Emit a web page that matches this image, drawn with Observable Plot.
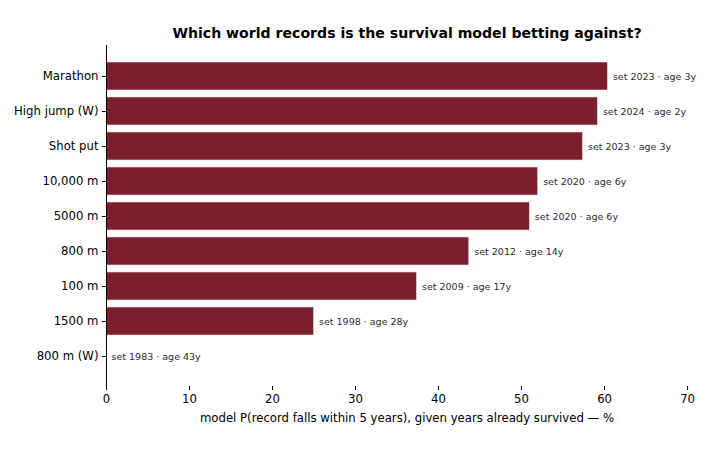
<!DOCTYPE html>
<html>
<head>
<meta charset="utf-8">
<script src="https://cdn.jsdelivr.net/npm/d3@7"></script>
<script src="https://cdn.jsdelivr.net/npm/@observablehq/plot@0.6"></script>
<style>
  body { margin: 0; background: #fff; }
  svg { font-family: "DejaVu Sans", sans-serif; }
</style>
</head>
<body>
<div id="chart"></div>
<script>
const events = ["Marathon", "High jump (W)", "Shot put", "10,000 m", "5000 m", "800 m", "100 m", "1500 m", "800 m (W)"];
const probs = [60.4, 59.2, 57.4, 52.0, 51.0, 43.7, 37.4, 25.0, 0.0];
const setYears = [2023, 2024, 2023, 2020, 2020, 2012, 2009, 1998, 1983];
const ages = [3, 2, 3, 6, 6, 14, 17, 28, 43];
const xTicks = [0, 10, 20, 30, 40, 50, 60, 70];
const title = "Which world records is the survival model betting against?";
const xLabel = "model P(record falls within 5 years), given years already survived — %";

const data = events.map((e, i) => ({
  event: e, p: probs[i], label: `set ${setYears[i]} · age ${ages[i]}y`
}));

const chart = Plot.plot({
  width: 720,
  height: 450,
  marginLeft: 106,
  marginRight: 13,
  marginTop: 45,
  marginBottom: 64,
  style: { fontFamily: "DejaVu Sans, sans-serif", fontSize: "12px", color: "#000", background: "#fff" },
  x: { domain: [0, 72.4], ticks: xTicks, label: null, tickSize: 4 },
  y: { domain: events, paddingInner: 0.2, paddingOuter: 0.43, label: null, tickSize: 4 },
  marks: [
    Plot.barX(data, { x: "p", y: "event", fill: "#7b1f2d", stroke: "#f3dede", strokeWidth: 0.6 }),
    Plot.text(data, { x: "p", y: "event", text: "label", textAnchor: "start", dx: 5, fontSize: 9.5, fill: "#2a2a33" }),
    Plot.ruleX([0], { stroke: "#000", strokeWidth: 1 }),
    Plot.ruleY([0], { frameAnchor: "bottom", stroke: "#000" }),
    Plot.axisX({ ticks: xTicks, tickSize: 4, tickPadding: 4, fontSize: 11.7, label: null }),
    Plot.axisY({ tickSize: 4, tickPadding: 4, fontSize: 11.7, label: null }),
    Plot.text([title], { frameAnchor: "top", dy: -8, fontWeight: "bold", fontSize: 14.1, fill: "#000", lineAnchor: "bottom" }),
    Plot.text([xLabel], { frameAnchor: "bottom", dy: 35, fontSize: 11.7, fill: "#000", lineAnchor: "bottom" })
  ]
});
document.getElementById("chart").appendChild(chart);
</script>
</body>
</html>
